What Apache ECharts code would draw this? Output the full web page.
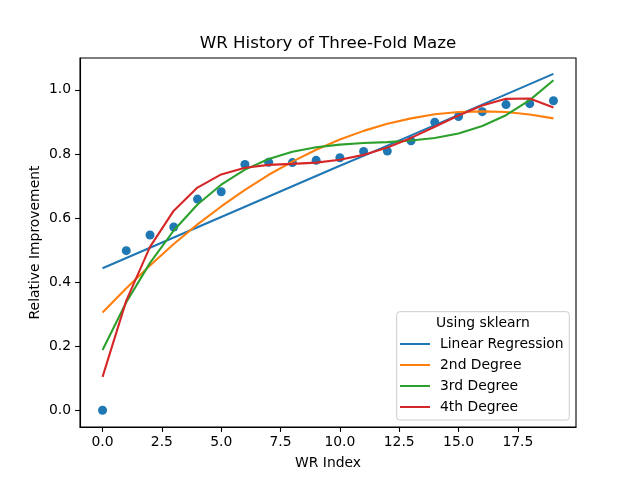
<!DOCTYPE html>
<html>
<head>
<meta charset="utf-8">
<script src="https://cdn.jsdelivr.net/npm/echarts@6/dist/echarts.min.js"></script>
<style>html,body{margin:0;padding:0;background:#fff}#c{width:640px;height:480px}</style>
</head>
<body>
<div id="c"></div>
<script>
const wrIndex = [0,1,2,3,4,5,6,7,8,9,10,11,12,13,14,15,16,17,18,19];
const wrValues = [0, 0.498, 0.547, 0.572, 0.659, 0.682, 0.767, 0.774, 0.773, 0.780, 0.788, 0.808, 0.809, 0.841, 0.899, 0.917, 0.932, 0.954, 0.957, 0.966];
const linearFit = [0.443,0.475,0.507,0.539,0.571,0.603,0.635,0.667,0.699,0.731,0.763,0.794,0.826,0.858,0.890,0.922,0.954,0.986,1.018,1.050];
const deg2Fit = [0.305,0.381,0.452,0.519,0.580,0.636,0.688,0.735,0.776,0.813,0.845,0.872,0.894,0.911,0.924,0.931,0.933,0.931,0.923,0.911];
const deg3Fit = [0.188,0.337,0.460,0.561,0.642,0.704,0.751,0.784,0.807,0.821,0.829,0.834,0.837,0.842,0.850,0.864,0.887,0.921,0.968,1.030];
const deg4Fit = [0.104,0.342,0.510,0.623,0.695,0.736,0.757,0.766,0.769,0.773,0.782,0.797,0.820,0.850,0.885,0.920,0.951,0.972,0.973,0.945];
const seriesNames = ['Linear Regression','2nd Degree','3rd Degree','4th Degree'];
const xTicks = [0,2.5,5,7.5,10,12.5,15,17.5];
const yTicks = [0,0.2,0.4,0.6,0.8,1.0];

const FONT = 'DejaVu Sans';
const pairs = arr => wrIndex.map((x,i)=>[x,arr[i]]);
const colors = ['#1f77b4','#ff7f0e','#2ca02c','#d62728'];
const fits = [linearFit,deg2Fit,deg3Fit,deg4Fit];

const chart = echarts.init(document.getElementById('c'), null, {renderer:'canvas'});
const lineSeries = fits.map((f,k)=>({
  name: seriesNames[k], type:'line', data: pairs(f), symbol:'none',
  color: colors[k], lineStyle:{width:2.1, color: colors[k]}, z:3, animation:false
}));
chart.setOption({
  animation:false,
  grid:{left:80,right:64,top:58,bottom:53,show:true,borderColor:'#000',borderWidth:1.1,backgroundColor:'transparent'},
  xAxis:{type:'value',min:-0.95,max:19.95,
    name:'WR Index',nameLocation:'middle',nameGap:29,
    nameTextStyle:{fontFamily:FONT,fontSize:13.9,color:'#000'},
    axisLine:{show:true,onZero:false,lineStyle:{color:'#000',width:1.1}},
    axisTick:{show:true,length:4.9,lineStyle:{color:'#000',width:1.1},customValues:xTicks},
    axisLabel:{fontFamily:FONT,fontSize:13.9,color:'#000',margin:8,customValues:xTicks,formatter:v=>v.toFixed(1)},
    splitLine:{show:false}},
  yAxis:{type:'value',min:-0.0524,max:1.0995,
    name:'Relative Improvement',nameLocation:'middle',nameGap:38,nameMoveOverlap:false,
    nameTextStyle:{fontFamily:FONT,fontSize:13.9,color:'#000'},
    axisLine:{show:true,onZero:false,lineStyle:{color:'#000',width:1.1}},
    axisTick:{show:true,length:4.9,lineStyle:{color:'#000',width:1.1},customValues:yTicks},
    axisLabel:{fontFamily:FONT,fontSize:13.9,color:'#000',margin:9,customValues:yTicks,formatter:v=>v.toFixed(1)},
    splitLine:{show:false}},
  legend:{data:seriesNames,orient:'vertical',left:400,top:337,padding:0,itemWidth:30,itemHeight:2,itemGap:7,icon:'rect',
    textStyle:{fontFamily:FONT,fontSize:13.9,color:'#000',padding:[0,0,0,5]},z:20},
  graphic:[
    {type:'rect',shape:{x:396.7,y:311.7,width:172.6,height:108.3,r:3},style:{fill:'rgba(255,255,255,0.8)',stroke:'#cccccc',lineWidth:1},z:10},
    {type:'text',style:{x:483,y:323.5,text:'Using sklearn',font:'13.9px "DejaVu Sans"',fill:'#000',align:'center',verticalAlign:'middle',textAlign:'center',textVerticalAlign:'middle'},z:21},
    {type:'text',style:{x:328,y:43.5,text:'WR History of Three-Fold Maze',font:'16.7px "DejaVu Sans"',fill:'#000',align:'center',verticalAlign:'middle',textAlign:'center',textVerticalAlign:'middle'},z:21}
  ],
  series:[{type:'scatter',name:'WR',data:pairs(wrValues),symbolSize:9,itemStyle:{color:'#1f77b4',opacity:1},z:2}].concat(lineSeries)
});
</script>
</body>
</html>
